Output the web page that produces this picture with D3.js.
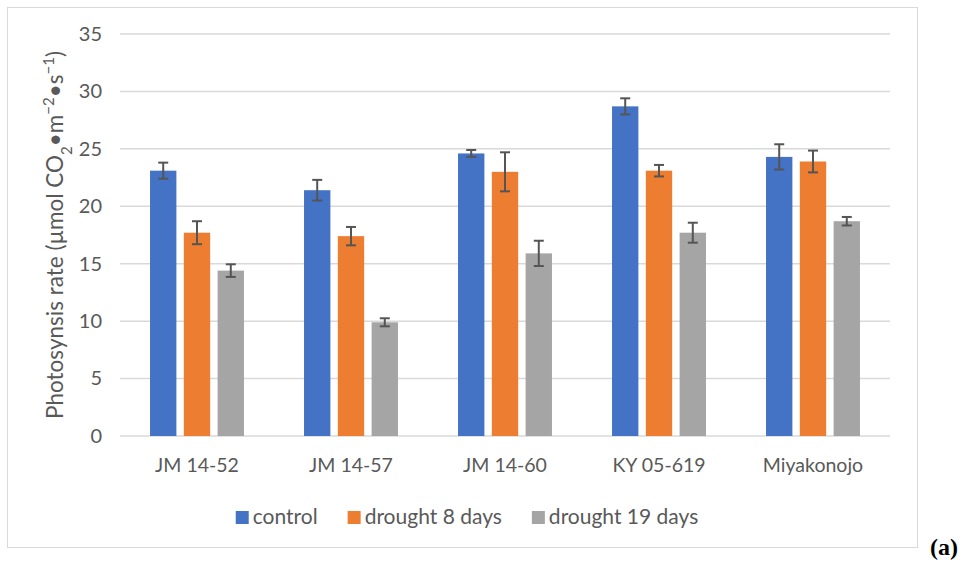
<!DOCTYPE html>
<html>
<head>
<meta charset="utf-8">
<script src="https://cdn.jsdelivr.net/npm/d3@7"></script>
<style>
  body { margin: 0; background: #fff; }
  svg { display: block; }
  text { font-family: Lato, "Open Sans", sans-serif; }
</style>
</head>
<body>
<div id="chart"></div>
<script>
const categories = ["JM 14-52", "JM 14-57", "JM 14-60", "KY 05-619", "Miyakonojo"];
const seriesNames = ["control", "drought 8 days", "drought 19 days"];
const control = [23.1, 21.4, 24.6, 28.7, 24.3];
const drought8 = [17.7, 17.4, 23.0, 23.1, 23.9];
const drought19 = [14.4, 9.9, 15.9, 17.7, 18.7];
const controlErr = [0.7, 0.9, 0.3, 0.7, 1.1];
const drought8Err = [1.0, 0.8, 1.7, 0.5, 0.95];
const drought19Err = [0.55, 0.35, 1.1, 0.87, 0.37];
const yTicks = [0, 5, 10, 15, 20, 25, 30, 35];
const colors = ["#4472C4", "#ED7D31", "#A5A5A5"];

const width = 969;
const height = 563;

const values = [control, drought8, drought19];
const errors = [controlErr, drought8Err, drought19Err];

const rows = [];
categories.forEach((cat, i) => {
  seriesNames.forEach((s, j) => {
    rows.push({ cat: cat, series: s, value: values[j][i], err: errors[j][i], color: colors[j] });
  });
});

const svg = d3
  .select("#chart")
  .append("svg")
  .attr("width", width)
  .attr("height", height);

// chart frame
svg
  .append("rect")
  .attr("x", 7.5)
  .attr("y", 7.5)
  .attr("width", 910)
  .attr("height", 540)
  .attr("fill", "none")
  .attr("stroke", "#D9D9D9")
  .attr("stroke-width", 1);

const x0 = d3.scaleBand().domain(categories).range([120, 890]).paddingInner(0.39).paddingOuter(0.195);
const x1 = d3.scaleBand().domain(seriesNames).range([0, x0.bandwidth()]).paddingInner(0.22);
const y = d3.scaleLinear().domain([0, 35]).range([436, 34]);

// gridlines
svg
  .append("g")
  .selectAll("line")
  .data(yTicks)
  .enter()
  .append("line")
  .attr("x1", 120)
  .attr("x2", 890)
  .attr("y1", (d) => y(d))
  .attr("y2", (d) => y(d))
  .attr("stroke", "#D9D9D9")
  .attr("stroke-width", 1.5);

// y axis labels
const yAxis = d3.axisLeft(y).tickValues(yTicks).tickSize(0).tickPadding(0);
svg
  .append("g")
  .attr("transform", "translate(102,0)")
  .call(yAxis)
  .call((g) => g.select(".domain").remove())
  .selectAll("text")
  .attr("fill", "#595959")
  .style("font-size", "20px")
  .style("font-family", "Lato, sans-serif");

// x axis labels
const xAxis = d3.axisBottom(x0).tickSize(0).tickPadding(0);
svg
  .append("g")
  .attr("transform", "translate(0,458)")
  .call(xAxis)
  .call((g) => g.select(".domain").remove())
  .selectAll("text")
  .attr("fill", "#595959")
  .style("font-size", "19.5px")
  .style("font-family", "Lato, sans-serif");

// bars
svg
  .append("g")
  .selectAll("rect")
  .data(rows)
  .enter()
  .append("rect")
  .attr("x", (d) => x0(d.cat) + x1(d.series))
  .attr("y", (d) => y(d.value))
  .attr("width", x1.bandwidth())
  .attr("height", (d) => y(0) - y(d.value))
  .attr("fill", (d) => d.color);

// error bars
const errG = svg.append("g").attr("stroke", "#555555").attr("stroke-width", 2);
rows.forEach((d) => {
  const cx = x0(d.cat) + x1(d.series) + x1.bandwidth() / 2;
  const top = y(d.value + d.err);
  const bot = y(d.value - d.err);
  errG.append("line").attr("x1", cx).attr("x2", cx).attr("y1", top).attr("y2", bot);
  errG.append("line").attr("x1", cx - 5).attr("x2", cx + 5).attr("y1", top).attr("y2", top);
  errG.append("line").attr("x1", cx - 5).attr("x2", cx + 5).attr("y1", bot).attr("y2", bot);
});

// y axis title
const title = svg
  .append("text")
  .attr("transform", "translate(63," + (y(0) + y(35)) / 2 + ") rotate(-90)")
  .attr("text-anchor", "middle")
  .attr("fill", "#595959")
  .style("font-size", "22.5px");
title.append("tspan").text("Photosynsis rate (µmol CO");
title.append("tspan").text("2").attr("baseline-shift", "sub").style("font-size", "15px");
title.append("tspan").text("•m");
title.append("tspan").text("−2").attr("baseline-shift", "super").style("font-size", "15px");
title.append("tspan").text("•s");
title.append("tspan").text("−1").attr("baseline-shift", "super").style("font-size", "15px");
title.append("tspan").text(")");

// legend
const legend = svg.append("g");
let lx = 0;
seriesNames.forEach((s, j) => {
  const item = legend.append("g").attr("transform", "translate(" + lx + ",0)");
  item.append("rect").attr("x", 0).attr("y", -13).attr("width", 13).attr("height", 13).attr("fill", colors[j]);
  const t = item
    .append("text")
    .attr("x", 17)
    .attr("y", 0)
    .attr("fill", "#595959")
    .style("font-size", "21px")
    .text(s);
  lx += 17 + t.node().getComputedTextLength() + 30;
});
const legendWidth = lx - 30;
legend.attr("transform", "translate(" + (467 - legendWidth / 2) + ",524)");

// panel label
svg
  .append("text")
  .attr("x", 930)
  .attr("y", 555)
  .style("font-family", "'Liberation Serif', serif")
  .style("font-weight", "bold")
  .style("font-size", "24px")
  .attr("fill", "#000")
  .text("(a)");
</script>
</body>
</html>
